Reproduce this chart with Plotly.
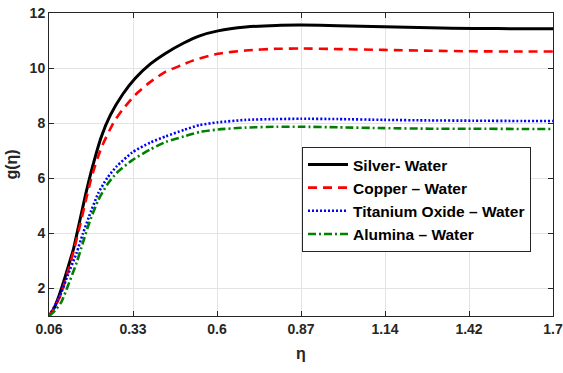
import plotly.graph_objects as go
import numpy as np

silver_x = [0.06, 0.075, 0.09, 0.105, 0.12, 0.14, 0.16, 0.18, 0.20, 0.23, 0.26, 0.30, 0.34, 0.39, 0.44, 0.50, 0.55, 0.61, 0.70, 0.80, 0.88, 1.0, 1.15, 1.3, 1.44, 1.6, 1.7]
silver_y = [1.0, 1.25, 1.65, 2.15, 2.7, 3.45, 4.45, 5.45, 6.35, 7.5, 8.3, 9.05, 9.62, 10.15, 10.54, 10.92, 11.17, 11.35, 11.49, 11.55, 11.56, 11.54, 11.5, 11.46, 11.44, 11.43, 11.43]

copper_x = [0.06, 0.08, 0.10, 0.12, 0.14, 0.16, 0.18, 0.20, 0.23, 0.27, 0.30, 0.34, 0.39, 0.44, 0.49, 0.53, 0.61, 0.70, 0.80, 0.88, 1.0, 1.15, 1.3, 1.44, 1.6, 1.7]
copper_y = [1.0, 1.35, 1.82, 2.55, 3.35, 4.25, 5.2, 6.1, 7.1, 8.02, 8.5, 9.02, 9.5, 9.87, 10.1, 10.28, 10.52, 10.64, 10.7, 10.71, 10.69, 10.66, 10.63, 10.61, 10.6, 10.6]

titania_x = [0.06, 0.085, 0.10, 0.12, 0.15, 0.17, 0.19, 0.22, 0.25, 0.28, 0.33, 0.39, 0.44, 0.50, 0.55, 0.61, 0.70, 0.80, 0.88, 1.0, 1.15, 1.3, 1.44, 1.6, 1.7]
titania_y = [1.0, 1.49, 1.85, 2.45, 3.3, 3.98, 4.6, 5.45, 6.02, 6.43, 6.93, 7.3, 7.52, 7.76, 7.93, 8.03, 8.12, 8.15, 8.16, 8.15, 8.12, 8.1, 8.09, 8.08, 8.08]

alumina_x = [0.06, 0.08, 0.10, 0.12, 0.15, 0.17, 0.19, 0.22, 0.25, 0.28, 0.33, 0.39, 0.44, 0.50, 0.55, 0.61, 0.70, 0.80, 0.88, 1.0, 1.15, 1.3, 1.44, 1.6, 1.7]
alumina_y = [1.0, 1.2, 1.5, 2.05, 2.94, 3.65, 4.35, 5.2, 5.78, 6.19, 6.65, 7.05, 7.32, 7.52, 7.68, 7.77, 7.84, 7.87, 7.87, 7.85, 7.82, 7.8, 7.8, 7.79, 7.79]

x_tick_vals = list(np.linspace(0.06, 1.7, 7))
x_tick_text = ["0.06", "0.33", "0.6", "0.87", "1.14", "1.42", "1.7"]
y_tick_vals = [2, 4, 6, 8, 10, 12]

series = [
    ("Silver- Water", silver_x, silver_y, "black", "solid", 3),
    ("Copper \u2013 Water", copper_x, copper_y, "#ff0000", "9px,6px", 2.6),
    ("Titanium Oxide \u2013 Water", titania_x, titania_y, "#0000ff", "2px,2px", 2.6),
    ("Alumina \u2013 Water", alumina_x, alumina_y, "#008000", "8px,3px,2px,3px", 2.6),
]

fig = go.Figure()
for i, (name, xs, ys, col, dash, w) in enumerate(series):
    fig.add_trace(go.Scatter(x=xs, y=ys, mode="lines", name=name,
                             line=dict(color=col, dash=dash, width=w, shape="spline", smoothing=0.6)))

font_main = "Liberation Sans, Arial, sans-serif"
fig.update_layout(
    width=563, height=373,
    margin=dict(l=49, r=10, t=13, b=57, autoexpand=False),
    paper_bgcolor="white", plot_bgcolor="white",
    font=dict(family=font_main, size=14, color="#262626"),
    legend=dict(x=0.502, y=0.558, xanchor="left", yanchor="top",
                bgcolor="white", bordercolor="#262626", borderwidth=1,
                font=dict(family=font_main, size=15.5, color="black", weight="bold"),
                tracegroupgap=0, itemwidth=40),
    showlegend=True,
)
fig.update_xaxes(range=[0.06, 1.7], tickvals=x_tick_vals, ticktext=x_tick_text,
                 showgrid=True, gridcolor="#e3e3e3", gridwidth=1,
                 showline=True, linecolor="#262626", linewidth=1, mirror="ticks",
                 ticks="inside", ticklen=5, tickcolor="#262626", automargin=False,
                 tickfont=dict(size=14, weight="bold", color="#262626"),
                 title=dict(text="\u03b7", font=dict(size=16, weight="bold", color="#262626"), standoff=12),
                 zeroline=False)
fig.update_yaxes(range=[1, 12], tickvals=y_tick_vals,
                 showgrid=True, gridcolor="#e3e3e3", gridwidth=1,
                 showline=True, linecolor="#262626", linewidth=1, mirror="ticks",
                 ticks="inside", ticklen=5, tickcolor="#262626", automargin=False,
                 tickfont=dict(size=14, weight="bold", color="#262626"),
                 title=dict(text="g(\u03b7)", font=dict(size=16, weight="bold", color="#262626"), standoff=8),
                 zeroline=False)

fig.write_html("out.html")
